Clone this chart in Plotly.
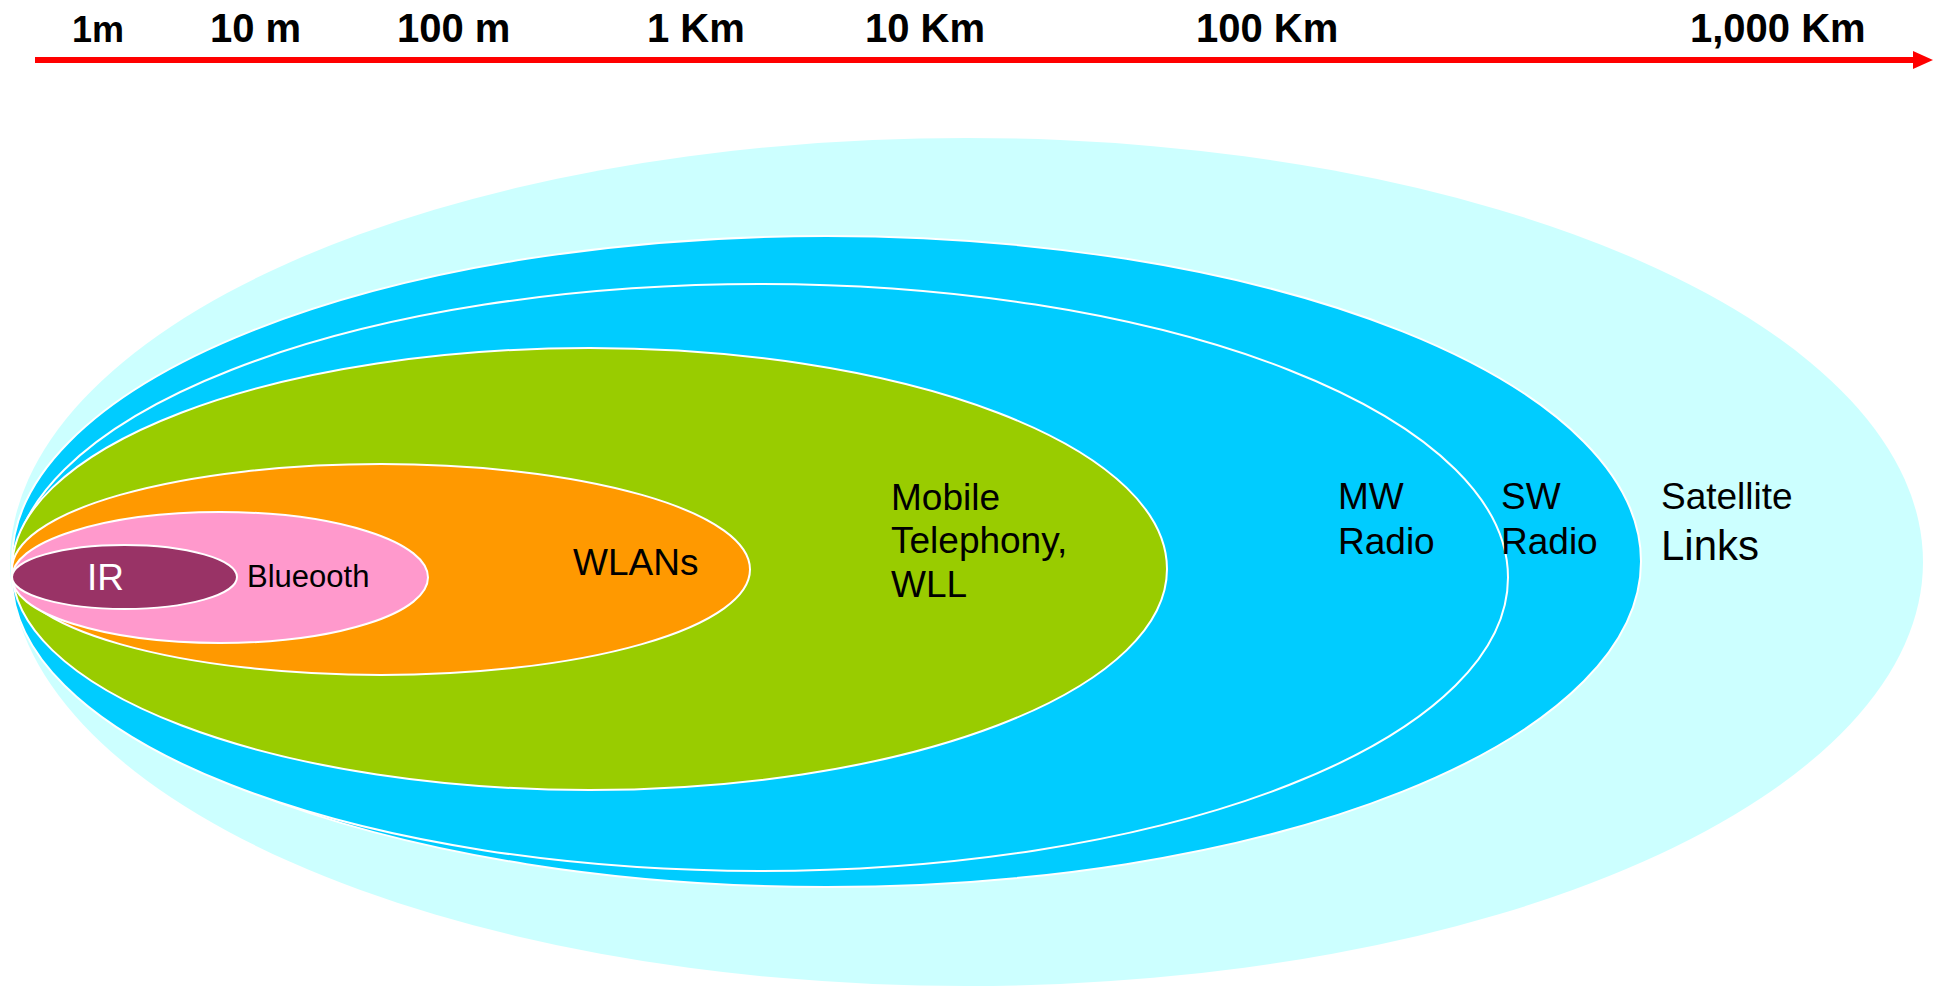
import plotly.graph_objects as go

W, H = 1937, 986

# ---- Axis (distance scale) ----
tick_labels = ["1m", "10 m", "100 m", "1 Km", "10 Km", "100 Km", "1,000 Km"]
tick_x = [98, 255, 453, 696, 925, 1267, 1778]
tick_y = [29, 28, 28, 28, 28, 28, 28]
tick_size = [36, 40, 40, 40, 40, 40, 40]
axis_y = 60
axis_x0, axis_x1 = 35, 1933
head_len, head_half = 20, 9

# ---- Coverage ellipses (outermost first) ----
names = ["Satellite", "SW Radio", "MW Radio", "Mobile", "WLAN", "Bluetooth", "IR"]
ell_left = [10, 12, 12, 12, 12, 12, 12]
ell_right = [1923, 1641, 1508, 1167, 750, 428, 237]
ell_top = [138, 236, 284, 348, 464, 512, 545]
ell_bottom = [986, 887, 871, 790, 675, 643, 609]
ell_color = ["#CCFFFF", "#00CCFF", "#00CCFF", "#99CC00", "#FF9900", "#FF99CC", "#993366"]
ell_line = [0, 2, 2, 2, 2, 2, 2]

# ---- Region labels (one entry per text line) ----
lab_text = ["IR", "Blueooth", "WLANs", "Mobile", "Telephony,", "WLL",
            "MW", "Radio", "SW", "Radio", "Satellite", "Links"]
lab_x = [105, 308, 635, 889, 889, 889, 1336, 1336, 1499, 1499, 1659, 1659]
lab_y = [577, 576, 562, 497, 540, 584, 496, 541, 496, 541, 496, 545]
lab_size = [37, 31, 37, 37, 37, 37, 37, 37, 37, 37, 37, 42]
lab_anchor = ["center", "center", "center", "left", "left", "left",
              "left", "left", "left", "left", "left", "left"]
lab_color = ["white"] + ["black"] * 11

FONT = "Liberation Sans, Arial, Helvetica, sans-serif"

fig = go.Figure()
# invisible trace to establish axes
fig.add_trace(go.Scatter(x=[0, W], y=[0, H], mode="markers",
                         marker=dict(opacity=0), hoverinfo="skip", showlegend=False))

shapes = []
for i in range(len(names)):
    shapes.append(dict(
        type="circle", xref="x", yref="y",
        x0=ell_left[i], x1=ell_right[i], y0=ell_top[i], y1=ell_bottom[i],
        fillcolor=ell_color[i],
        line=dict(color="white", width=ell_line[i]) if ell_line[i] else dict(width=0),
        layer="below",
    ))

# axis arrow
shapes.append(dict(type="line", xref="x", yref="y",
                   x0=axis_x0, x1=axis_x1 - head_len + 2, y0=axis_y, y1=axis_y,
                   line=dict(color="#FF0000", width=6)))
shapes.append(dict(type="path", xref="x", yref="y",
                   path=f"M {axis_x1 - head_len},{axis_y - head_half} L {axis_x1},{axis_y} "
                        f"L {axis_x1 - head_len},{axis_y + head_half} Z",
                   fillcolor="#FF0000", line=dict(width=0)))

annotations = []
for t, x, y, s in zip(tick_labels, tick_x, tick_y, tick_size):
    annotations.append(dict(x=x, y=y, xref="x", yref="y", text=f"<b>{t}</b>",
                            showarrow=False, xanchor="center", yanchor="middle",
                            font=dict(family=FONT, size=s, color="black")))
for t, x, y, s, a, c in zip(lab_text, lab_x, lab_y, lab_size, lab_anchor, lab_color):
    annotations.append(dict(x=x, y=y, xref="x", yref="y", text=t,
                            showarrow=False, xanchor=a, yanchor="middle", align="left",
                            font=dict(family=FONT, size=s, color=c)))

fig.update_layout(
    width=W, height=H,
    margin=dict(l=0, r=0, t=0, b=0, pad=0),
    paper_bgcolor="white", plot_bgcolor="white",
    xaxis=dict(range=[0, W], visible=False, fixedrange=True),
    yaxis=dict(range=[H, 0], visible=False, fixedrange=True),
    shapes=shapes, annotations=annotations, showlegend=False,
)

fig.write_html("out.html", config={"displayModeBar": False})
